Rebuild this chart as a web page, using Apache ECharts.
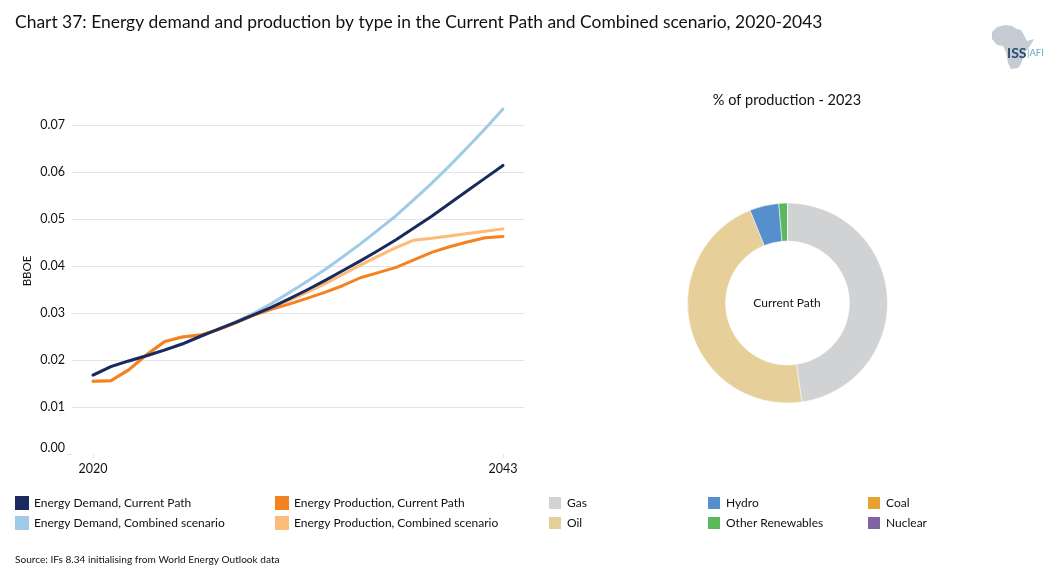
<!DOCTYPE html>
<html><head><meta charset="utf-8">
<style>html,body{margin:0;padding:0;background:#fff}#c{width:1055px;height:584px}</style>
<script src="https://cdn.jsdelivr.net/npm/echarts@6/dist/echarts.min.js"></script>
</head><body><div id="c"></div>
<script>
const years = [2020,2021,2022,2023,2024,2025,2026,2027,2028,2029,2030,2031,2032,2033,2034,2035,2036,2037,2038,2039,2040,2041,2042,2043];
const demandCurrent = [0.0168,0.0186,0.0198,0.0209,0.0221,0.0234,0.0250,0.0265,0.0280,0.0296,0.0312,0.0330,0.0349,0.0369,0.0390,0.0411,0.0433,0.0456,0.0481,0.0506,0.0533,0.0560,0.0587,0.0614];
const demandCombined = [0.0168,0.0186,0.0198,0.0209,0.0221,0.0234,0.0250,0.0265,0.0281,0.0299,0.0320,0.0343,0.0367,0.0392,0.0419,0.0447,0.0477,0.0507,0.0541,0.0576,0.0613,0.0652,0.0692,0.0734];
const productionCurrent = [0.0155,0.0156,0.0179,0.0211,0.0239,0.0249,0.0253,0.0264,0.0279,0.0295,0.0308,0.0319,0.0331,0.0344,0.0358,0.0375,0.0386,0.0397,0.0413,0.0429,0.0441,0.0451,0.0460,0.0463];
const productionCombined = [0.0155,0.0156,0.0179,0.0211,0.0239,0.0249,0.0253,0.0264,0.0279,0.0296,0.0311,0.0327,0.0344,0.0362,0.0382,0.0402,0.0421,0.0439,0.0455,0.0459,0.0464,0.0469,0.0474,0.0479];
const lineNames = ['Energy Demand, Current Path','Energy Demand, Combined scenario','Energy Production, Current Path','Energy Production, Combined scenario'];
const lineColors = ['#1b2a5e','#a0cbe8','#f58220','#fdbb7a'];
const shareNames = ['Gas','Oil','Hydro','Other Renewables','Coal','Nuclear'];
const shareValues = [47.7,46.2,4.7,1.4,0,0];
const shareColors = ['#d1d2d4','#e6cf99','#5590cc','#5cb85f','#e8a02e','#8064a2'];
const xTicks = [2020,2043];
const font = 'Lato';
const ink = '#111';
const pairs = a => a.map((v,i)=>[years[i],v]);
const lineSeries = (name,color,data,z) => ({type:'line',name,data:pairs(data),showSymbol:false,symbol:'none',z,lineStyle:{color,width:3,cap:'round',join:'round'},itemStyle:{color},silent:true});
const legend = (left,top,gap,data) => ({orient:'vertical',left,top,itemWidth:14,itemHeight:14,itemGap:gap,icon:'rect',selectedMode:false,padding:0,data,textStyle:{fontFamily:font,fontSize:12,color:ink,lineHeight:14}});
const chart = echarts.init(document.getElementById('c'),null,{renderer:'canvas'});
chart.setOption({
  animation:false,
  backgroundColor:'#fff',
  textStyle:{fontFamily:font},
  title:[
    {text:'Chart 37: Energy demand and production by type in the Current Path and Combined scenario, 2020-2043',left:15,top:14,padding:0,textStyle:{fontFamily:font,fontSize:17.45,fontWeight:'normal',color:ink}},
    {text:'% of production - 2023',left:787,top:93,padding:0,textAlign:'center',textStyle:{fontFamily:font,fontSize:14.5,fontWeight:'normal',color:ink}},
    {text:'Current Path',left:787,top:297,padding:0,textAlign:'center',textStyle:{fontFamily:font,fontSize:12,fontWeight:'normal',color:ink}},
    {text:'Source: IFs 8.34 initialising from World Energy Outlook data',left:15,top:555,padding:0,textStyle:{fontFamily:font,fontSize:10.1,fontWeight:'normal',color:ink}}
  ],
  legend:[
    legend(15,496,6,[lineNames[0],lineNames[1]]),
    legend(275,496,6,[lineNames[2],lineNames[3]]),
    legend(547,495,4,[shareNames[0],shareNames[1]]),
    legend(706,495,4,[shareNames[2],shareNames[3]]),
    legend(866,495,4,[shareNames[4],shareNames[5]])
  ],
  grid:{left:72,width:452,top:78,height:376},
  xAxis:{type:'value',min:2018.82,max:2044.18,splitLine:{show:false},axisLine:{show:false},
    axisTick:{show:true,length:4,customValues:xTicks,lineStyle:{color:'#e4e4e4'}},
    axisLabel:{customValues:xTicks,margin:8,formatter:v=>String(v),fontFamily:font,fontSize:12.5,color:ink}},
  yAxis:[
    {type:'value',min:0,max:0.08,interval:0.01,name:'BBOE',nameLocation:'middle',nameRotate:90,nameGap:39,nameTextStyle:{fontFamily:font,fontSize:11.5,color:ink,padding:[0,10,0,0]},
     nameMoveOverlap:false,
     axisLine:{show:false},axisTick:{show:false},
     splitLine:{show:true,showMinLine:false,showMaxLine:false,lineStyle:{color:'#e4e4e4',width:1}},
     axisLabel:{showMaxLabel:false,verticalAlignMinLabel:'bottom',margin:7,padding:[2,0,0,0],formatter:v=>v.toFixed(2),fontFamily:font,fontSize:12.5,color:ink}},
    {type:'value',min:0,max:0.08,position:'left',axisLine:{show:false},splitLine:{show:false},axisLabel:{show:false},
     axisTick:{show:true,length:5,customValues:[0],lineStyle:{color:'#e4e4e4'}}}
  ],
  series:[
    lineSeries(lineNames[1],lineColors[1],demandCombined,2),
    lineSeries(lineNames[3],lineColors[3],productionCombined,3),
    lineSeries(lineNames[2],lineColors[2],productionCurrent,4),
    lineSeries(lineNames[0],lineColors[0],demandCurrent,5),
    {type:'pie',center:[787.5,303],radius:[62,100],startAngle:90,clockwise:true,silent:true,label:{show:false},labelLine:{show:false},
     itemStyle:{borderColor:'#fff',borderWidth:0.5},stillShowZeroSum:false,
     data:shareNames.map((name,i)=>({name,value:shareValues[i],itemStyle:{color:shareColors[i]}}))}
  ],
  graphic:[
    {type:'polygon',z:1,shape:{points:[[992,32],[997,27],[1005,25],[1012,26],[1017,29],[1021,30],[1024,35],[1027,41],[1034,39],[1030,46],[1025,52],[1023,58],[1021,64],[1018,68],[1011,69],[1008,63],[1006,52],[1003,46],[997,45],[992,39]]},style:{fill:'#c6ccd3'}},
    {type:'text',z:2,left:1007,top:46,style:{text:'ISS',fontFamily:font,fontSize:14,fontWeight:'bold',fill:'#2a4a6b'}},
    {type:'text',z:2,left:1027,top:48,style:{text:'|AFI',fontFamily:font,fontSize:9.5,fill:'#6aa9c9'}}
  ]
});
</script></body></html>
